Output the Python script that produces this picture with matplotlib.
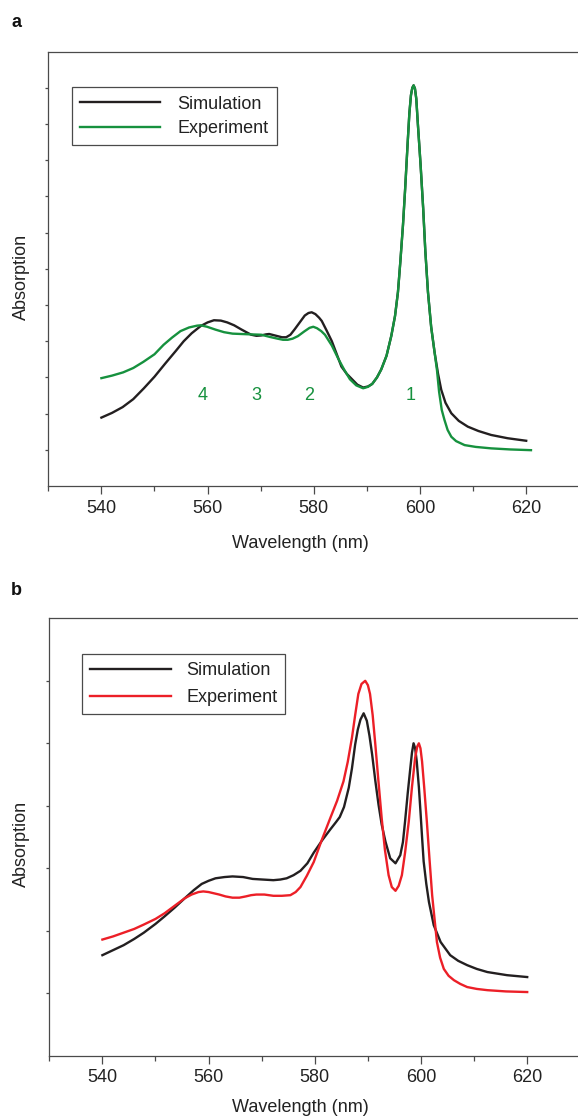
import matplotlib
matplotlib.use("Agg")
import matplotlib.pyplot as plt
from matplotlib.ticker import MultipleLocator, FixedLocator, NullFormatter

plt.rcParams['font.family'] = ['Liberation Sans', 'DejaVu Sans']

# ---------------- data ----------------
# Panel a
sim_a_wl = [540, 542, 544, 546, 548, 550, 552, 554, 555.5, 557, 558.7, 560, 561.2, 562.5,
            563.7, 565, 566.3, 567.3, 568.2, 569.2, 570.1, 571, 571.6, 572.4, 573.2, 574,
            574.8, 575.6, 576.4, 577.4, 578.3, 579, 579.6, 580.3, 581, 581.5, 582.4, 583.4,
            584.3, 585.2, 586.2, 587.2, 588.2, 589.3, 590.2, 591.0, 591.9, 592.7, 593.7,
            594.6, 595.3, 595.85, 596.3, 596.8, 597.2, 597.7, 598.0, 598.3, 598.55, 598.8,
            599.05, 599.3, 599.6, 600.1, 600.6, 601.0, 601.5, 602.1, 602.75, 603.4, 604.0,
            604.8, 605.9, 607.3, 609.0, 611.0, 613.4, 616.5, 620]
sim_a = [1.89, 2.02, 2.18, 2.40, 2.70, 3.02, 3.38, 3.73, 4.00, 4.22, 4.42, 4.52, 4.58, 4.57,
         4.52, 4.44, 4.33, 4.25, 4.18, 4.15, 4.16, 4.19, 4.20, 4.17, 4.14, 4.11,
         4.11, 4.18, 4.33, 4.53, 4.71, 4.78, 4.80, 4.75, 4.65, 4.56, 4.30, 4.00,
         3.65, 3.30, 3.10, 2.95, 2.80, 2.72, 2.75, 2.82, 3.00, 3.22, 3.60,
         4.15, 4.70, 5.36, 6.20, 7.22, 8.20, 9.54, 10.30, 10.80, 11.00, 11.07,
         10.98, 10.70, 10.00, 8.90, 7.67, 6.50, 5.36, 4.40, 3.69, 3.10, 2.66,
         2.30, 2.01, 1.80, 1.64, 1.52, 1.41, 1.32, 1.25]

exp_a_wl = [540, 542, 544.1, 546, 547.9, 550, 551.7, 553.3, 554.9, 556.5, 558.0, 558.7,
            559.9, 561.5, 563.1, 564.7, 566.3, 568, 570.1, 571.7, 573.2, 574.2, 575.1, 576,
            577.0, 578.2, 579.2, 579.9, 580.6, 581.4, 582.1, 583.4, 584.6, 585.7, 586.8,
            588, 589.3, 590.2, 591.0, 591.9, 592.7, 593.7, 594.6, 595.3, 595.85, 596.3,
            596.8, 597.2, 597.7, 598.0, 598.3, 598.55, 598.8, 599.05, 599.3, 599.6, 600.1,
            600.6, 601.0, 601.5, 602.1, 602.75, 603.2, 603.6, 604.1, 604.6, 605.2, 605.9,
            606.8, 608.4, 610.5, 613.4, 617, 620.9]
exp_a = [2.98, 3.05, 3.14, 3.26, 3.43, 3.64, 3.90, 4.10, 4.28, 4.38, 4.43, 4.44,
         4.40, 4.32, 4.25, 4.21, 4.20, 4.19, 4.18, 4.12, 4.07, 4.04, 4.04, 4.07,
         4.14, 4.27, 4.37, 4.40, 4.36, 4.28, 4.18, 3.88, 3.52, 3.22, 2.95,
         2.78, 2.70, 2.74, 2.82, 3.00, 3.22, 3.60, 4.15, 4.70, 5.36, 6.20,
         7.22, 8.20, 9.54, 10.30, 10.80, 11.00, 11.07, 10.98, 10.70, 10.00, 8.90,
         7.67, 6.50, 5.36, 4.40, 3.69, 3.20, 2.60, 2.10, 1.83, 1.55, 1.36,
         1.24, 1.13, 1.08, 1.04, 1.01, 0.99]

peak_labels = ['4', '3', '2', '1']
peak_label_wl = [559.1, 569.1, 579.2, 598.2]
peak_label_y = 2.5

# Panel b
sim_b_wl = [540, 542, 544, 546, 547.8, 550, 551.7, 553.6, 555.5, 557.2, 558.7, 560, 561.3,
            563, 564.5, 566.5, 568.3, 570.2, 572.2, 573.5, 574.7, 576, 577.3, 578.6, 579.8,
            581.4, 582.9, 584, 584.7, 585.5, 586.4, 587.0, 587.6, 588.1, 588.6, 589.2, 589.8,
            590.3, 590.8, 591.4, 592.0, 592.6, 593.3, 594.2, 595.2, 596.1, 596.6, 597.0,
            597.5, 598.0, 598.3, 598.6, 598.9, 599.2, 599.6, 599.9, 600.2, 600.5, 601.0,
            601.5, 602.4, 603.7, 605.5, 607, 608.7, 610.5, 612.5, 616.2, 620]
sim_b = [1.61, 1.69, 1.77, 1.87, 1.97, 2.11, 2.23, 2.37, 2.52, 2.65, 2.75, 2.80, 2.84,
         2.86, 2.87, 2.86, 2.83, 2.82, 2.81, 2.82, 2.84, 2.89, 2.96, 3.08, 3.25,
         3.45, 3.62, 3.74, 3.82, 3.98, 4.29, 4.60, 4.98, 5.22, 5.38, 5.48, 5.36,
         5.12, 4.82, 4.40, 4.02, 3.70, 3.43, 3.16, 3.08, 3.21, 3.42, 3.75,
         4.20, 4.61, 4.85, 5.00, 4.92, 4.71, 4.30, 3.91, 3.50, 3.11, 2.75,
         2.46, 2.09, 1.82, 1.61, 1.52, 1.45, 1.39, 1.34, 1.29, 1.26]

exp_b_wl = [540, 542, 544, 546, 547.8, 550, 551.7, 553.6, 555.5, 556.8, 558.1, 559, 560.0,
            561, 562.0, 563.2, 564.5, 565.8, 567.0, 568, 569.0, 570.5, 572.2, 573.8, 575.4,
            576.4, 577.3, 578.5, 579.8, 581.3, 582.9, 584.2, 585.4, 586.2, 587.0, 587.6,
            588.2, 588.8, 589.5, 590.0, 590.4, 590.9, 591.4, 592.0, 592.6, 593.2, 593.9,
            594.5, 595.2, 595.8, 596.4, 597.0, 597.7, 598.3, 598.9, 599.3, 599.6, 599.9,
            600.2, 600.6, 601.1, 601.6, 602.1, 602.6, 603.0, 603.6, 604.3, 605.2, 606.2,
            607.4, 608.7, 610.5, 612.5, 616, 620]
exp_b = [1.86, 1.91, 1.97, 2.03, 2.10, 2.19, 2.28, 2.40, 2.52, 2.58, 2.62, 2.63, 2.62,
         2.60, 2.58, 2.55, 2.53, 2.53, 2.55, 2.57, 2.58, 2.58, 2.56, 2.56, 2.57,
         2.62, 2.70, 2.88, 3.10, 3.45, 3.80, 4.08, 4.39, 4.70, 5.09, 5.45,
         5.79, 5.95, 6.00, 5.93, 5.79, 5.45, 4.98, 4.38, 3.80, 3.30, 2.89,
         2.70, 2.64, 2.72, 2.89, 3.25, 3.75, 4.30, 4.77, 4.95, 5.00, 4.92,
         4.71, 4.30, 3.75, 3.15, 2.57, 2.15, 1.82, 1.57, 1.39, 1.28, 1.21,
         1.15, 1.10, 1.07, 1.05, 1.03, 1.02]

series_labels = ['Simulation', 'Experiment']
xticks = [540, 560, 580, 600, 620]

# ---------------- style ----------------
BLACK = '#231f20'
GREEN = '#16913e'
RED = '#ec1f27'
SPINE = '#4a4a4a'
TXT = '#222222'
FS = 13
LW = 1.7

W, H = 578, 1117
fig = plt.figure(figsize=(W / 100, H / 100), dpi=100)


def px_rect(left, top, right, bottom):
    return [left / W, 1 - bottom / H, (right - left) / W, (bottom - top) / H]


def style_axes(ax, ymax, nyt):
    ax.set_xlim(530, 631)
    ax.set_ylim(0, ymax)
    ax.xaxis.set_major_locator(FixedLocator(xticks))
    ax.xaxis.set_minor_locator(MultipleLocator(10))
    ax.yaxis.set_major_locator(FixedLocator(list(range(1, nyt + 1))))
    ax.yaxis.set_major_formatter(NullFormatter())
    for s in ax.spines.values():
        s.set_color(SPINE)
        s.set_linewidth(0.9)
    ax.spines['right'].set_visible(False)
    ax.tick_params(axis='x', which='major', direction='out', length=5.8, width=0.9,
                   color=SPINE, labelsize=FS, labelcolor=TXT, pad=4)
    ax.tick_params(axis='x', which='minor', direction='out', length=3.4, width=0.9,
                   color=SPINE)
    ax.tick_params(axis='y', which='major', direction='out', length=2.2, width=0.9,
                   color=SPINE)


# ---------------- panel a ----------------
axA = fig.add_axes(px_rect(48.3, 51.7, 584.6, 486.0))
style_axes(axA, 12, 11)
axA.plot(sim_a_wl, sim_a, color=BLACK, lw=LW, label=series_labels[0])
axA.plot(exp_a_wl, exp_a, color=GREEN, lw=LW, label=series_labels[1])
for t, x in zip(peak_labels, peak_label_wl):
    axA.text(x, peak_label_y, t, color=GREEN, fontsize=FS, ha='center', va='center')
axA.set_xlabel('Wavelength (nm)', fontsize=FS, color=TXT)
axA.xaxis.label.set_va('center')
axA.xaxis.set_label_coords((300 - 48.3) / (584.6 - 48.3), (486.0 - 543) / (486.0 - 51.7))
axA.set_ylabel('Absorption', fontsize=FS, color=TXT)
axA.yaxis.label.set_va('center')
axA.yaxis.set_label_coords((21 - 48.3) / (584.6 - 48.3), (486.0 - 277) / (486.0 - 51.7))
legA = axA.legend(loc='upper left', bbox_to_anchor=(71.6 / W, 1 - 87.4 / H),
                  bbox_transform=fig.transFigure, borderaxespad=0, fontsize=FS,
                  frameon=True, fancybox=False, framealpha=1, edgecolor=SPINE,
                  handlelength=4.46, handletextpad=0.96, borderpad=0.45, labelspacing=0.42)
legA.get_frame().set_linewidth(0.9)
for t in legA.get_texts():
    t.set_color(TXT)

# ---------------- panel b ----------------
axB = fig.add_axes(px_rect(49.3, 618.3, 585.6, 1055.8))
style_axes(axB, 7, 6)
axB.plot(sim_b_wl, sim_b, color=BLACK, lw=LW, label=series_labels[0])
axB.plot(exp_b_wl, exp_b, color=RED, lw=LW, label=series_labels[1])
axB.set_xlabel('Wavelength (nm)', fontsize=FS, color=TXT)
axB.xaxis.label.set_va('center')
axB.xaxis.set_label_coords((300 - 49.3) / (585.6 - 49.3), (1055.8 - 1108) / (1055.8 - 618.3))
axB.set_ylabel('Absorption', fontsize=FS, color=TXT)
axB.yaxis.label.set_va('center')
axB.yaxis.set_label_coords((21 - 49.3) / (585.6 - 49.3), (1055.8 - 844) / (1055.8 - 618.3))
legB = axB.legend(loc='upper left', bbox_to_anchor=(82 / W, 1 - 653.9 / H),
                  bbox_transform=fig.transFigure, borderaxespad=0, fontsize=FS,
                  frameon=True, fancybox=False, framealpha=1, edgecolor=SPINE,
                  handlelength=4.49, handletextpad=0.83, borderpad=0.45, labelspacing=0.55)
legB.get_frame().set_linewidth(0.9)
for t in legB.get_texts():
    t.set_color(TXT)

# panel letters
fig.text(16.7 / W, 1 - 22.7 / H, 'a', fontsize=13, fontweight='bold', ha='center', va='center',
         color='#111111')
fig.text(16.7 / W, 1 - 590.7 / H, 'b', fontsize=13, fontweight='bold', ha='center', va='center',
         color='#111111')

fig.savefig('out.png', dpi=100)
